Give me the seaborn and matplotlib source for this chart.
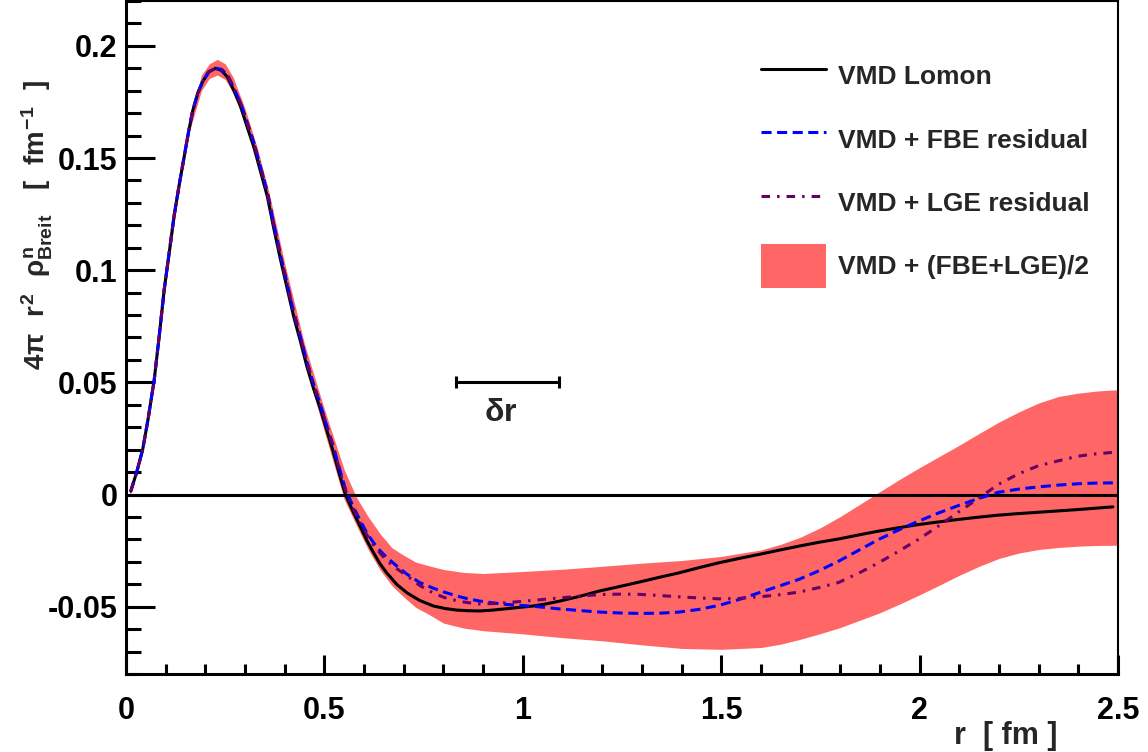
import numpy as np
import pandas as pd
import matplotlib
matplotlib.use("Agg")
import matplotlib.pyplot as plt
import seaborn as sns
from matplotlib.lines import Line2D
from matplotlib.patches import Patch
from matplotlib.ticker import MultipleLocator, FuncFormatter

# --- data ---
r_line = [0.012, 0.027, 0.042, 0.056, 0.071, 0.084, 0.096, 0.109, 0.121, 0.134, 0.147,
          0.158, 0.168, 0.181, 0.193, 0.209, 0.226, 0.241, 0.256, 0.272, 0.289, 0.305,
          0.322, 0.339, 0.356, 0.372, 0.389, 0.406, 0.423, 0.440, 0.456, 0.473, 0.490,
          0.507, 0.523, 0.538, 0.553, 0.572, 0.590, 0.607, 0.624, 0.640, 0.657, 0.682,
          0.708, 0.740, 0.775, 0.804, 0.833, 0.862, 0.892, 0.925, 0.959, 0.992, 1.026,
          1.060, 1.093, 1.143, 1.193, 1.244, 1.294, 1.344, 1.394, 1.444, 1.495, 1.545,
          1.595, 1.646, 1.696, 1.746, 1.796, 1.847, 1.897, 1.947, 1.997, 2.048, 2.098,
          2.148, 2.198, 2.249, 2.299, 2.349, 2.399, 2.443, 2.487]
vmd_lomon = [0.0015, 0.010, 0.020, 0.034, 0.051, 0.071, 0.091, 0.108, 0.124, 0.138, 0.151,
             0.162, 0.171, 0.179, 0.184, 0.1885, 0.190, 0.189, 0.186, 0.180, 0.173, 0.164,
             0.155, 0.144, 0.133, 0.119, 0.105, 0.092, 0.079, 0.068, 0.057, 0.047, 0.038,
             0.028, 0.0186, 0.009, 0.000, -0.0075, -0.0141, -0.0205, -0.026, -0.0308,
             -0.0349, -0.0400, -0.0438, -0.0472, -0.0497, -0.0508, -0.0515, -0.0518,
             -0.0519, -0.0515, -0.0509, -0.0503, -0.0497, -0.0487, -0.0475, -0.0454,
             -0.0430, -0.0410, -0.0390, -0.0369, -0.0349, -0.0326, -0.0304, -0.0285,
             -0.0267, -0.0248, -0.0230, -0.0213, -0.0198, -0.0180, -0.0163, -0.0148,
             -0.0134, -0.0122, -0.0111, -0.0101, -0.0092, -0.0085, -0.0079, -0.0073,
             -0.0067, -0.0061, -0.0055]
vmd_fbe = [0.0015, 0.010, 0.020, 0.034, 0.051, 0.071, 0.091, 0.108, 0.124, 0.138, 0.151,
           0.162, 0.171, 0.179, 0.184, 0.1885, 0.190, 0.1895, 0.187, 0.181, 0.1745, 0.166,
           0.157, 0.146, 0.135, 0.121, 0.107, 0.094, 0.081, 0.070, 0.059, 0.049, 0.040,
           0.030, 0.021, 0.0115, 0.0025, -0.0052, -0.0115, -0.0171, -0.0215, -0.0250,
           -0.0280, -0.0318, -0.0355, -0.0392, -0.0418, -0.0436, -0.0452, -0.0465,
           -0.0475, -0.0483, -0.0490, -0.0494, -0.0498, -0.0504, -0.0510, -0.0517,
           -0.0524, -0.0528, -0.0530, -0.0529, -0.0524, -0.0512, -0.0494, -0.0468,
           -0.0438, -0.0408, -0.0378, -0.0340, -0.0297, -0.0248, -0.0200, -0.0158,
           -0.0119, -0.0082, -0.0049, -0.0018, 0.0010, 0.0024, 0.0034, 0.0042, 0.0048,
           0.0051, 0.0052]
vmd_lge = [0.0015, 0.010, 0.020, 0.034, 0.051, 0.071, 0.091, 0.108, 0.124, 0.138, 0.151,
           0.162, 0.171, 0.179, 0.184, 0.1885, 0.190, 0.1895, 0.187, 0.181, 0.1745, 0.166,
           0.157, 0.146, 0.135, 0.121, 0.107, 0.094, 0.081, 0.070, 0.059, 0.049, 0.040,
           0.030, 0.021, 0.011, 0.002, -0.006, -0.0125, -0.018, -0.0225, -0.026,
           -0.0295, -0.0330, -0.0362, -0.0405, -0.0440, -0.0460, -0.0473, -0.0482,
           -0.0488, -0.0486, -0.0482, -0.0477, -0.0472, -0.0466, -0.0461, -0.0453,
           -0.0446, -0.0444, -0.0445, -0.0450, -0.0456, -0.0461, -0.0465, -0.0463,
           -0.0456, -0.0447, -0.0435, -0.0415, -0.0392, -0.0350, -0.0304, -0.0253,
           -0.0200, -0.0140, -0.0078, -0.0018, 0.0045, 0.0092, 0.0128, 0.0150, 0.0171,
           0.0181, 0.0188]

r_band = [0.01, 0.04, 0.07, 0.10, 0.13, 0.16, 0.19, 0.21, 0.23, 0.25, 0.27, 0.30, 0.33,
          0.36, 0.40, 0.45, 0.50, 0.55, 0.58, 0.61, 0.64, 0.67, 0.70, 0.73, 0.76, 0.80,
          0.85, 0.90, 1.00, 1.10, 1.20, 1.30, 1.40, 1.50, 1.60, 1.65, 1.70, 1.75, 1.80,
          1.85, 1.90, 1.95, 2.00, 2.05, 2.10, 2.15, 2.20, 2.25, 2.30, 2.35, 2.40, 2.45,
          2.50]
band_hi = [0.001, 0.020, 0.052, 0.098, 0.136, 0.166, 0.187, 0.192, 0.194, 0.192, 0.186,
           0.172, 0.155, 0.135, 0.103, 0.067, 0.038, 0.011, -0.001, -0.0098, -0.0174,
           -0.0237, -0.0271, -0.0301, -0.0316, -0.0334, -0.0347, -0.0352, -0.0343,
           -0.0333, -0.0320, -0.0306, -0.0294, -0.0276, -0.0247, -0.0222, -0.0190,
           -0.0148, -0.0098, -0.0043, 0.0013, 0.0068, 0.0120, 0.0170, 0.0220, 0.0272,
           0.0323, 0.0368, 0.0408, 0.0437, 0.0452, 0.0462, 0.0467]
band_lo = [-0.001, 0.018, 0.048, 0.093, 0.132, 0.162, 0.180, 0.1855, 0.187, 0.185, 0.179,
           0.165, 0.148, 0.128, 0.095, 0.059, 0.028, -0.0022, -0.0135, -0.0244, -0.0335,
           -0.0406, -0.0457, -0.0503, -0.0531, -0.0573, -0.0595, -0.0607, -0.0621,
           -0.0638, -0.0652, -0.0670, -0.0686, -0.0690, -0.0682, -0.0667, -0.0645,
           -0.0620, -0.0593, -0.0560, -0.0527, -0.0488, -0.0447, -0.0404, -0.0360,
           -0.0320, -0.0285, -0.0261, -0.0245, -0.0236, -0.0230, -0.0227, -0.0226]

labels = ['VMD Lomon', 'VMD + FBE residual', 'VMD + LGE residual', 'VMD + (FBE+LGE)/2']
x_ticks = [0, 0.5, 1, 1.5, 2, 2.5]
y_ticks = [-0.05, 0, 0.05, 0.1, 0.15, 0.2]

# delta-r marker
dr_center, dr_half, dr_y = 0.961, 0.129, 0.05

# --- style ---
sns.set_theme(style="ticks")
plt.rcParams['font.family'] = ['Liberation Sans', 'DejaVu Sans']
plt.rcParams['font.weight'] = 'bold'
plt.rcParams['axes.unicode_minus'] = False
plt.rcParams['mathtext.fontset'] = 'custom'
plt.rcParams['mathtext.rm'] = 'Liberation Sans:bold'
plt.rcParams['mathtext.it'] = 'Liberation Sans:bold'
plt.rcParams['mathtext.bf'] = 'Liberation Sans:bold'
plt.rcParams['mathtext.sf'] = 'Liberation Sans:bold'

RED = '#ff6666'
BLUE = '#0000ff'
PURPLE = '#660066'
DASH = (0, (3.3, 1.8))
DASHDOT = (0, (2.8, 2.3, 0.8, 2.3))

fig = plt.figure(figsize=(11.48, 7.52), dpi=100)
ax = fig.add_axes([126 / 1148, 78 / 752, 992 / 1148, 673 / 752])

df = pd.DataFrame({'r': r_line, 'lomon': vmd_lomon, 'fbe': vmd_fbe, 'lge': vmd_lge})

ax.fill_between(r_band, band_lo, band_hi, color=RED, lw=0, zorder=1)
ax.axhline(0, color='black', lw=2.2, zorder=2)

sns.lineplot(data=df, x='r', y='lomon', ax=ax, color='black', lw=2.2,
             sort=False, errorbar=None, zorder=3)
sns.lineplot(data=df, x='r', y='fbe', ax=ax, color=BLUE, lw=2.2,
             linestyle=DASH, sort=False, errorbar=None, zorder=4)
sns.lineplot(data=df, x='r', y='lge', ax=ax, color=PURPLE, lw=2.2,
             linestyle=DASHDOT, sort=False, errorbar=None, zorder=5)

# delta r scale bar
ax.errorbar([dr_center], [dr_y], xerr=[dr_half], fmt='none', ecolor='black',
            elinewidth=2.2, capsize=4, capthick=2.2, zorder=6)
ax.text(dr_center - 0.016, 0.0365, r'$\delta$r', ha='center', va='center', fontsize=23,
        fontweight='bold', zorder=6)

ax.set_xlim(0, 2.5)
ax.set_ylim(-0.08, 0.22)
ax.set_xticks(x_ticks)
ax.set_yticks(y_ticks)
ax.xaxis.set_minor_locator(MultipleLocator(0.1))
ax.yaxis.set_minor_locator(MultipleLocator(0.01))
ax.yaxis.set_major_formatter(FuncFormatter(lambda v, p: f'{v:g}'))
ax.xaxis.set_major_formatter(FuncFormatter(lambda v, p: f'{v:g}'))

ax.tick_params(axis='both', which='both', direction='in', top=False, right=False,
               colors='black', labelsize=22, width=2.2)
ax.tick_params(axis='y', which='major', length=21, pad=6)
ax.tick_params(axis='y', which='minor', length=10.5)
ax.tick_params(axis='x', which='major', length=14, pad=16)
ax.tick_params(axis='x', which='minor', length=7)
for lab in ax.get_xticklabels() + ax.get_yticklabels():
    lab.set_fontweight('bold')

for side in ['left', 'bottom']:
    ax.spines[side].set_linewidth(2.2)
for side in ['top', 'right']:
    ax.spines[side].set_linewidth(1.5)
for s in ax.spines.values():
    s.set_color('black')

ax.set_xlabel('')
ax.set_ylabel('')
fig.text(1058 / 1148, 1 - 736 / 752, 'r  [ fm ]', ha='right', va='center',
         fontsize=22, fontweight='bold')
fig.text(37 / 1148, 1 - 225 / 752,
         r'$4\pi\ \ r^{2}\ \ \rho^{n}_{Breit}\ \ \ [\ \ fm^{-1}\ \ ]$',
         rotation=90, ha='center', va='center', fontsize=20)

handles = [
    Line2D([], [], color='black', lw=2.2),
    Line2D([], [], color=BLUE, lw=2.2, linestyle=DASH),
    Line2D([], [], color=PURPLE, lw=2.2, linestyle=DASHDOT),
    Patch(facecolor=RED, edgecolor='none'),
]
ax.legend(handles, labels, loc='upper left', bbox_to_anchor=(761 / 1148, 1 - 54 / 752),
          bbox_transform=fig.transFigure, frameon=False,
          handlelength=2.45, handleheight=2.2, handletextpad=0.45,
          labelspacing=0.72, borderpad=0, borderaxespad=0,
          prop={'weight': 'bold', 'size': 19})

fig.savefig('out.png', dpi=100)
